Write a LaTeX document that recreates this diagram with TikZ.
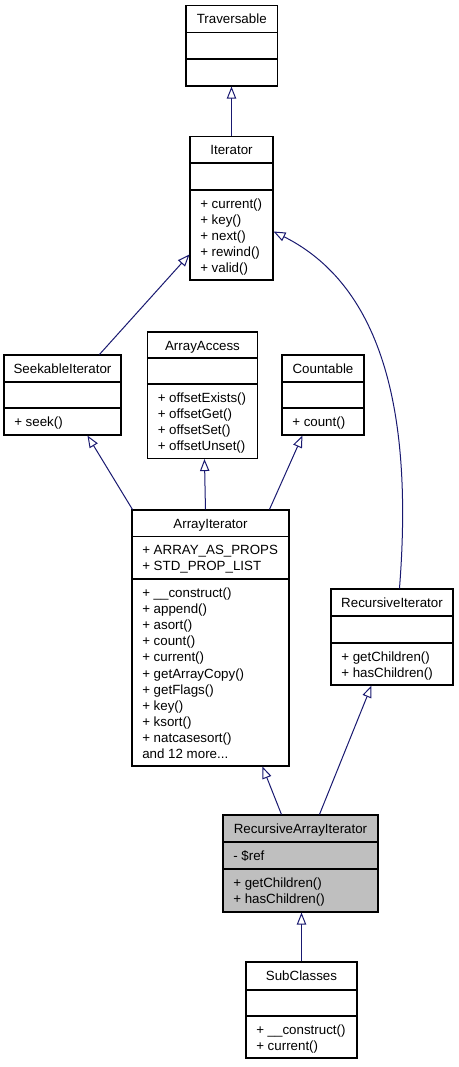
\documentclass[tikz,border=0pt]{standalone}
\usepackage{fontspec}
\setmainfont{Liberation Sans}
\usetikzlibrary{arrows.meta,fit,calc}
\definecolor{edgeblue}{RGB}{25,25,112}
\definecolor{selgray}{RGB}{191,191,191}
\begin{document}
\begin{tikzpicture}[x=0.75pt,y=-0.75pt,
  cls/.style={draw=black, line width=0.8pt, inner sep=0pt, fill=white},
  selcls/.style={cls, fill=selgray},
  sepline/.style={draw=black, line width=0.8pt},
  ttl/.style={anchor=base, inner sep=0pt, font=\fontsize{10}{12}\selectfont},
  mem/.style={anchor=base west, inner sep=0pt, font=\fontsize{10}{12}\selectfont},
  inh/.style={draw=edgeblue, line width=0.75pt, -{Triangle[open, length=9pt, width=7pt, fill=white]}}
]
\useasboundingbox (0,0) rectangle (459,1067);

% Traversable
\node[cls, fit={(186,5.5) (277.5,86)}] (trav) {};
\draw[sepline] (trav.west |- 0,32.5) -- (trav.east |- 0,32.5);
\draw[sepline] (trav.west |- 0,59) -- (trav.east |- 0,59);
\node[ttl] (travt) at (231.75,23.75) {Traversable};

% Iterator
\node[cls, fit={(190,136.5) (273,280)}] (iter) {};
\draw[sepline] (iter.west |- 0,163) -- (iter.east |- 0,163);
\draw[sepline] (iter.west |- 0,190) -- (iter.east |- 0,190);
\node[ttl] (itert) at (231.5,154.75) {Iterator};
\node[mem] (iterm1) at (200,208.5) {+ current()};
\node[mem] (iterm2) at (200,224.6) {+ key()};
\node[mem] (iterm3) at (200,240.7) {+ next()};
\node[mem] (iterm4) at (200,256.8) {+ rewind()};
\node[mem] (iterm5) at (200,272.9) {+ valid()};

% SeekableIterator
\node[cls, fit={(4,355) (121,435)}] (seek) {};
\draw[sepline] (seek.west |- 0,382) -- (seek.east |- 0,382);
\draw[sepline] (seek.west |- 0,408) -- (seek.east |- 0,408);
\node[ttl] (seekt) at (62.5,373.25) {SeekableIterator};
\node[mem] (seekm1) at (14,426.5) {+ seek()};

% ArrayAccess
\node[cls, fit={(147.5,332) (257.5,458.5)}] (aa) {};
\draw[sepline] (aa.west |- 0,358) -- (aa.east |- 0,358);
\draw[sepline] (aa.west |- 0,384) -- (aa.east |- 0,384);
\node[ttl] (aat) at (202.5,350.25) {ArrayAccess};
\node[mem] (aam1) at (157.5,402.5) {+ offsetExists()};
\node[mem] (aam2) at (157.5,418.6) {+ offsetGet()};
\node[mem] (aam3) at (157.5,434.7) {+ offsetSet()};
\node[mem] (aam4) at (157.5,450.8) {+ offsetUnset()};

% Countable
\node[cls, fit={(282,355) (364,435)}] (cnt) {};
\draw[sepline] (cnt.west |- 0,382) -- (cnt.east |- 0,382);
\draw[sepline] (cnt.west |- 0,408) -- (cnt.east |- 0,408);
\node[ttl] (cntt) at (323,373.25) {Countable};
\node[mem] (cntm1) at (292,426.5) {+ count()};

% ArrayIterator
\node[cls, fit={(132,510) (289,766)}] (ai) {};
\draw[sepline] (ai.west |- 0,536.5) -- (ai.east |- 0,536.5);
\draw[sepline] (ai.west |- 0,579) -- (ai.east |- 0,579);
\node[ttl] (ait) at (210.5,528.25) {ArrayIterator};
\node[mem] (aia1) at (142,554.75) {+ ARRAY\_AS\_PROPS};
\node[mem] (aia2) at (142,570.85) {+ STD\_PROP\_LIST};
\node[mem] (aim1) at (142,597.5) {+ \_\_construct()};
\node[mem] (aim2) at (142,613.6) {+ append()};
\node[mem] (aim3) at (142,629.7) {+ asort()};
\node[mem] (aim4) at (142,645.8) {+ count()};
\node[mem] (aim5) at (142,661.9) {+ current()};
\node[mem] (aim6) at (142,678.0) {+ getArrayCopy()};
\node[mem] (aim7) at (142,694.1) {+ getFlags()};
\node[mem] (aim8) at (142,710.2) {+ key()};
\node[mem] (aim9) at (142,726.3) {+ ksort()};
\node[mem] (aim10) at (142,742.4) {+ natcasesort()};
\node[mem] (aim11) at (142,758.5) {and 12 more...};

% RecursiveIterator
\node[cls, fit={(331,589) (453,685)}] (ri) {};
\draw[sepline] (ri.west |- 0,616) -- (ri.east |- 0,616);
\draw[sepline] (ri.west |- 0,643) -- (ri.east |- 0,643);
\node[ttl] (rit) at (392,607.25) {RecursiveIterator};
\node[mem] (rim1) at (341,661.5) {+ getChildren()};
\node[mem] (rim2) at (341,677.6) {+ hasChildren()};

% RecursiveArrayIterator
\node[selcls, fit={(223,815) (378,912)}] (rai) {};
\draw[sepline] (rai.west |- 0,842) -- (rai.east |- 0,842);
\draw[sepline] (rai.west |- 0,869) -- (rai.east |- 0,869);
\node[ttl] (rait) at (300.5,833.25) {RecursiveArrayIterator};
\node[mem] (raia1) at (233,860.5) {- \$ref};
\node[mem] (raim1) at (233,887.5) {+ getChildren()};
\node[mem] (raim2) at (233,903.6) {+ hasChildren()};

% SubClasses
\node[cls, fit={(246,962) (357,1058)}] (sub) {};
\draw[sepline] (sub.west |- 0,990) -- (sub.east |- 0,990);
\draw[sepline] (sub.west |- 0,1016) -- (sub.east |- 0,1016);
\node[ttl] (subt) at (301.5,980.5) {SubClasses};
\node[mem] (subm1) at (256,1034.5) {+ \_\_construct()};
\node[mem] (subm2) at (256,1050.6) {+ current()};

% Inheritance connectors
\draw[inh] (iter.north) -- (iter.north |- trav.south);
\draw[inh] ($(seek.north west)+(96,0)$) -- ($(iter.north west)+(0,118.5)$);
\draw[inh] ($(ri.north west)+(69,0)$) .. controls (412,430) and (390,290) .. ($(iter.north east)+(0,95.5)$);
\draw[inh] ($(ai.north west)+(1,0)$) -- ($(seek.south west)+(84,0)$);
\draw[inh] ($(ai.north west)+(74,0)$) -- ($(aa.south west)+(57.5,0)$);
\draw[inh] ($(ai.north west)+(138,0)$) -- ($(cnt.south west)+(21,0)$);
\draw[inh] ($(rai.north west)+(59,0)$) -- ($(ai.south west)+(131,0)$);
\draw[inh] ($(rai.north west)+(97,0)$) -- ($(ri.south west)+(41,0)$);
\draw[inh] (sub.north) -- (sub.north |- rai.south);
\end{tikzpicture}
\end{document}
